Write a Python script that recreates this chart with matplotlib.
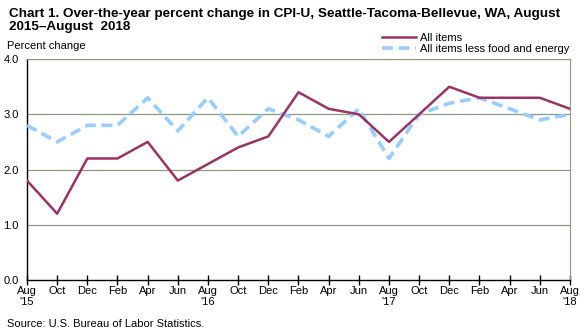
import matplotlib.pyplot as plt

plt.rcParams['font.family'] = ['Liberation Sans', 'DejaVu Sans']

months = ['Aug', 'Oct', 'Dec', 'Feb', 'Apr', 'Jun'] * 3 + ['Aug']
years = {0: "'15", 6: "'16", 12: "'17", 18: "'18"}
all_items = [1.8, 1.2, 2.2, 2.2, 2.5, 1.8, 2.1, 2.4, 2.6, 3.4,
             3.1, 3.0, 2.5, 3.0, 3.5, 3.3, 3.3, 3.3, 3.1]
core_items = [2.8, 2.5, 2.8, 2.8, 3.3, 2.7, 3.3, 2.6, 3.1, 2.9,
              2.6, 3.1, 2.2, 3.0, 3.2, 3.3, 3.1, 2.9, 3.0]

x = list(range(len(months)))
tick_labels = [m + ('\n' + years[i] if i in years else '') for i, m in enumerate(months)]

fig = plt.figure(figsize=(5.87, 3.36), dpi=100)
ax = fig.add_axes([0.046, 0.167, 0.925, 0.657])

ax.plot(x, core_items, color='#99ccff', linewidth=2.6, linestyle=(0, (3, 1.6)),
        label='All items less food and energy', zorder=3)
ax.plot(x, all_items, color='#993366', linewidth=1.8, label='All items', zorder=4)

ax.set_xlim(0, len(months) - 1)
ax.set_ylim(0, 4.0)
ax.set_yticks([0, 1, 2, 3, 4])
ax.set_yticklabels(['0.0', '1.0', '2.0', '3.0', '4.0'], fontsize=8)
ax.set_xticks(x)
ax.set_xticklabels(tick_labels, fontsize=8, linespacing=1.1)
ax.tick_params(axis='x', direction='inout', length=7, width=1, pad=1)
ax.tick_params(axis='y', length=0, pad=6)

for yv in [1, 2, 3, 4]:
    ax.axhline(yv, color='#8a9a80', linewidth=0.9, zorder=1)

for side in ['top', 'right']:
    ax.spines[side].set_color('#8a9a80')
for side in ['left', 'bottom']:
    ax.spines[side].set_color('black')
    ax.spines[side].set_linewidth(1.0)

fig.text(0.015, 0.975, 'Chart 1. Over-the-year percent change in CPI-U, Seattle-Tacoma-Bellevue, WA, August\n2015\u2013August  2018',
         fontsize=9.7, fontweight='bold', va='top', ha='left', linespacing=1.05)
fig.text(0.012, 0.862, 'Percent change', fontsize=8, va='center', ha='left')
fig.text(0.012, 0.02, 'Source: U.S. Bureau of Labor Statistics.', fontsize=8, va='bottom', ha='left')

handles, labels = ax.get_legend_handles_labels()
fig.legend(handles[::-1], labels[::-1], loc='upper left', bbox_to_anchor=(0.65, 0.902),
           frameon=False, fontsize=8, handlelength=3.1, handletextpad=0.4,
           labelspacing=0.1, borderaxespad=0, borderpad=0)

fig.savefig('out.png', dpi=100)
